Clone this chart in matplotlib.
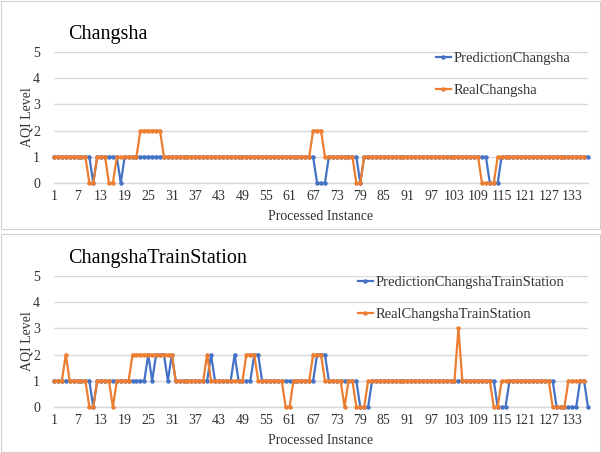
import matplotlib
matplotlib.use('Agg')
import matplotlib.pyplot as plt
from matplotlib.patches import Rectangle

plt.rcParams['font.family'] = ['Liberation Serif', 'DejaVu Serif']

# ---------------- data ----------------
titles = ['Changsha', 'ChangshaTrainStation']

changsha_pred = [
    1, 1, 1, 1, 1, 1, 1, 1, 1, 1, 0, 1, 1, 1, 1, 1, 1, 0, 1, 1,
    1, 1, 1, 1, 1, 1, 1, 1, 1, 1, 1, 1, 1, 1, 1, 1, 1, 1, 1, 1,
    1, 1, 1, 1, 1, 1, 1, 1, 1, 1, 1, 1, 1, 1, 1, 1, 1, 1, 1, 1,
    1, 1, 1, 1, 1, 1, 1, 0, 0, 0, 1, 1, 1, 1, 1, 1, 1, 1, 0, 1,
    1, 1, 1, 1, 1, 1, 1, 1, 1, 1, 1, 1, 1, 1, 1, 1, 1, 1, 1, 1,
    1, 1, 1, 1, 1, 1, 1, 1, 1, 1, 1, 0, 0, 0, 1, 1, 1, 1, 1, 1,
    1, 1, 1, 1, 1, 1, 1, 1, 1, 1, 1, 1, 1, 1, 1, 1, 1]
changsha_real = [
    1, 1, 1, 1, 1, 1, 1, 1, 1, 0, 0, 1, 1, 1, 0, 0, 1, 1, 1, 1,
    1, 1, 2, 2, 2, 2, 2, 2, 1, 1, 1, 1, 1, 1, 1, 1, 1, 1, 1, 1,
    1, 1, 1, 1, 1, 1, 1, 1, 1, 1, 1, 1, 1, 1, 1, 1, 1, 1, 1, 1,
    1, 1, 1, 1, 1, 1, 2, 2, 2, 1, 1, 1, 1, 1, 1, 1, 1, 0, 0, 1,
    1, 1, 1, 1, 1, 1, 1, 1, 1, 1, 1, 1, 1, 1, 1, 1, 1, 1, 1, 1,
    1, 1, 1, 1, 1, 1, 1, 1, 1, 0, 0, 0, 0, 1, 1, 1, 1, 1, 1, 1,
    1, 1, 1, 1, 1, 1, 1, 1, 1, 1, 1, 1, 1, 1, 1, 1]

station_pred = [
    1, 1, 1, 1, 1, 1, 1, 1, 1, 1, 0, 1, 1, 1, 1, 1, 1, 1, 1, 1,
    1, 1, 1, 1, 2, 1, 2, 2, 2, 1, 2, 1, 1, 1, 1, 1, 1, 1, 1, 1,
    2, 1, 1, 1, 1, 1, 2, 1, 1, 1, 1, 2, 2, 1, 1, 1, 1, 1, 1, 1,
    1, 1, 1, 1, 1, 1, 1, 2, 2, 2, 1, 1, 1, 1, 1, 1, 1, 1, 0, 0,
    0, 1, 1, 1, 1, 1, 1, 1, 1, 1, 1, 1, 1, 1, 1, 1, 1, 1, 1, 1,
    1, 1, 1, 1, 1, 1, 1, 1, 1, 1, 1, 1, 1, 0, 0, 0, 1, 1, 1, 1,
    1, 1, 1, 1, 1, 1, 1, 1, 0, 0, 0, 0, 0, 0, 1, 1, 0]
station_real = [
    1, 1, 1, 2, 1, 1, 1, 1, 1, 0, 0, 1, 1, 1, 1, 0, 1, 1, 1, 1,
    2, 2, 2, 2, 2, 2, 2, 2, 2, 2, 2, 1, 1, 1, 1, 1, 1, 1, 1, 2,
    1, 1, 1, 1, 1, 1, 1, 1, 1, 2, 2, 2, 1, 1, 1, 1, 1, 1, 1, 0,
    0, 1, 1, 1, 1, 1, 2, 2, 2, 1, 1, 1, 1, 1, 0, 1, 1, 0, 0, 0,
    1, 1, 1, 1, 1, 1, 1, 1, 1, 1, 1, 1, 1, 1, 1, 1, 1, 1, 1, 1,
    1, 1, 1, 3, 1, 1, 1, 1, 1, 1, 1, 1, 0, 0, 1, 1, 1, 1, 1, 1,
    1, 1, 1, 1, 1, 1, 1, 0, 0, 0, 0, 1, 1, 1, 1, 1]

pred_labels = ['PredictionChangsha', 'PredictionChangshaTrainStation']
real_labels = ['RealChangsha', 'RealChangshaTrainStation']
y_ticks = [0, 1, 2, 3, 4, 5]
x_tick_values = list(range(1, 134, 6))

# ---------------- figure ----------------
W, H = 601, 453
fig = plt.figure(figsize=(W / 100, H / 100), dpi=100)

BLUE = '#4472C4'
ORANGE = '#ED7D31'
GRID = '#D9D9D9'
TXT = '#333333'

# panel frames
for (y0, y1) in [(1, 229), (234, 452)]:
    fig.patches.append(Rectangle((1 / W, 1 - y1 / H), (W - 2) / W, (y1 - y0) / H,
                                 transform=fig.transFigure, fill=False,
                                 edgecolor='#D0D0D0', linewidth=0.8))

panels = [
    dict(pred=changsha_pred, real=changsha_real, top=52, bottom=183,
         title_y=35, leg_x=436, leg_y=52),
    dict(pred=station_pred, real=station_real, top=276, bottom=407,
         title_y=258, leg_x=358, leg_y=276),
]

for k, p in enumerate(panels):
    left, right = 54, 588
    ax = fig.add_axes([left / W, 1 - p['bottom'] / H, (right - left) / W,
                       (p['bottom'] - p['top']) / H])
    xp = list(range(1, len(p['pred']) + 1))
    xr = list(range(1, len(p['real']) + 1))
    ax.plot(xp, p['pred'], color=BLUE, linewidth=1.6, marker='o',
            markersize=2.2, label=pred_labels[k], clip_on=False, zorder=3)
    ax.plot(xr, p['real'], color=ORANGE, linewidth=1.6, marker='o',
            markersize=2.2, label=real_labels[k], clip_on=False, zorder=4)
    ax.set_xlim(1, 137)
    ax.set_ylim(0, 5)
    ax.set_yticks(y_ticks)
    ax.set_xticks(x_tick_values)
    ax.set_xticklabels([str(v) for v in x_tick_values])
    ax.tick_params(axis='both', length=0, labelsize=10, colors=TXT)
    ax.tick_params(axis='x', pad=5)
    ax.tick_params(axis='y', pad=10)
    for s in ['top', 'right', 'left']:
        ax.spines[s].set_visible(False)
    ax.spines['bottom'].set_color(GRID)
    ax.spines['bottom'].set_linewidth(1.0)
    ax.yaxis.grid(True, color=GRID, linewidth=1.0)
    ax.set_axisbelow(True)
    ax.set_xlabel('Processed Instance', fontsize=10, color=TXT)
    ax.set_ylabel('AQI Level', fontsize=10, color=TXT)
    ax.xaxis.set_label_coords(0.5, -0.205)
    ax.yaxis.set_label_coords(-0.038, 0.5)
    fig.text(68 / W, 1 - p['title_y'] / H, titles[k], fontsize=14.5,
             color='black', ha='left', va='center')
    ax.legend(loc='upper left',
              bbox_to_anchor=(p['leg_x'] / W, 1 - p['leg_y'] / H),
              bbox_transform=fig.transFigure, frameon=False, fontsize=10.5,
              handlelength=1.0, handletextpad=0.2, labelspacing=1.25,
              borderpad=0, borderaxespad=0, labelcolor=TXT)

fig.savefig('out.png', dpi=100)
